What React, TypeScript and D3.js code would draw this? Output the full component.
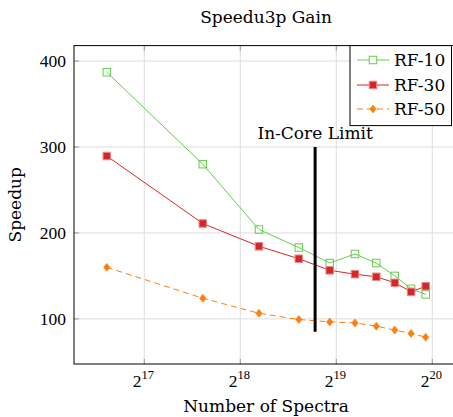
import React from "react";
import * as d3 from "d3";

const spectra = [100000, 200000, 300000, 400000, 500000, 600000, 700000, 800000, 900000, 1000000];
const rf10 = [387, 280, 204, 183, 165, 175.5, 165, 150, 135, 128.5];
const rf30 = [289.5, 211, 184.5, 170, 156.5, 152, 149, 142, 131.5, 138];
const rf50 = [160, 124, 106.5, 99.3, 96.5, 95.3, 91.5, 87, 83, 78.7];
const xTickExps = [17, 18, 19, 20];
const yTicks = [100, 200, 300, 400];
const inCoreX = 450000;
const inCoreY = [85, 300];

const W = 453, H = 417;
const L = 74, R = 458, T = 45.6, B = 364;
const FONT = "'DejaVu Serif', serif";
const NUMFONT = "'Liberation Serif', 'DejaVu Serif', serif";

const GREEN = "#66cc4e";
const RED = "#d62728";
const ORANGE = "#ff7f0e";

export default function App() {
  const x = d3.scaleLog().base(2).domain([Math.pow(2, 16.268), Math.pow(2, 20.268)]).range([L, R]);
  const y = d3.scaleLinear().domain([47.5, 418]).range([B, T]);
  const line = d3.line<[number, number]>().x(d => x(d[0])).y(d => y(d[1]));
  const pts = (vals: number[]) => spectra.map((s, i) => [s, vals[i]] as [number, number]);

  const square = (cx: number, cy: number, s: number, fill: string, stroke: string, key: string) => (
    <rect key={key} x={cx - s / 2} y={cy - s / 2} width={s} height={s} fill={fill} stroke={stroke} strokeWidth={1} />
  );
  const diamond = (cx: number, cy: number, r: number, key: string) => (
    <path key={key} d={`M${cx},${cy - r}L${cx + r * 0.8},${cy}L${cx},${cy + r}L${cx - r * 0.8},${cy}Z`} fill={ORANGE} stroke={ORANGE} strokeWidth={0.6} />
  );

  const legendRows = [
    { label: "RF-10", y: 60 },
    { label: "RF-30", y: 85 },
    { label: "RF-50", y: 109 },
  ];

  return (
    <svg width={W} height={H} style={{ position: "absolute", left: 0, top: 0, background: "#fff" }} fontFamily={FONT}>
      <defs>
        <clipPath id="plotclip"><rect x={L} y={T} width={R - L} height={B - T} /></clipPath>
      </defs>
      {/* title */}
      <text x={266} y={23} textAnchor="middle" fontSize={17} fill="#000">Speedu3p Gain</text>

      {/* grid */}
      {xTickExps.map(e => (
        <line key={"gx" + e} x1={x(Math.pow(2, e))} x2={x(Math.pow(2, e))} y1={T} y2={B} stroke="#dcdcdc" strokeWidth={1} />
      ))}
      {yTicks.map(v => (
        <line key={"gy" + v} x1={L} x2={R} y1={y(v)} y2={y(v)} stroke="#dcdcdc" strokeWidth={1} />
      ))}
      {/* ticks inside */}
      {xTickExps.map(e => (
        <g key={"tx" + e}>
          <line x1={x(Math.pow(2, e))} x2={x(Math.pow(2, e))} y1={B} y2={B - 5} stroke="#999" strokeWidth={1} />
          <line x1={x(Math.pow(2, e))} x2={x(Math.pow(2, e))} y1={T} y2={T + 5} stroke="#999" strokeWidth={1} />
        </g>
      ))}
      {yTicks.map(v => (
        <g key={"ty" + v}>
          <line x1={L} x2={L + 5} y1={y(v)} y2={y(v)} stroke="#999" strokeWidth={1} />
          <line x1={R} x2={R - 5} y1={y(v)} y2={y(v)} stroke="#999" strokeWidth={1} />
        </g>
      ))}

      <g clipPath="url(#plotclip)">
        <path d={line(pts(rf10)) || ""} fill="none" stroke={GREEN} strokeWidth={1} />
        <path d={line(pts(rf30)) || ""} fill="none" stroke={RED} strokeWidth={1} />
        <path d={line(pts(rf50)) || ""} fill="none" stroke={ORANGE} strokeWidth={1} strokeDasharray="6 4" />
        <line x1={x(inCoreX)} x2={x(inCoreX)} y1={y(inCoreY[0])} y2={y(inCoreY[1])} stroke="#000" strokeWidth={3} />
        {pts(rf10).map((p, i) => square(x(p[0]), y(p[1]), 7.5, "none", GREEN, "m10" + i))}
        {pts(rf30).map((p, i) => square(x(p[0]), y(p[1]), 7.5, RED, "#e8898a", "m30" + i))}
        {pts(rf50).map((p, i) => diamond(x(p[0]), y(p[1]), 4, "m50" + i))}
      </g>

      <text x={x(inCoreX)} y={139} textAnchor="middle" fontSize={17} fill="#000">In-Core Limit</text>

      {/* frame */}
      <rect x={L} y={T} width={R - L} height={B - T} fill="none" stroke="#000" strokeWidth={1} />

      {/* y tick labels */}
      {yTicks.map(v => (
        <text key={"yl" + v} x={66} y={y(v) + 6} textAnchor="end" fontSize={17.5} fontFamily={NUMFONT} fill="#000">{v}</text>
      ))}
      {/* x tick labels */}
      {xTickExps.map(e => (
        <text key={"xl" + e} x={x(Math.pow(2, e)) - 1} y={387} textAnchor="middle" fontSize={17.5} fontFamily={NUMFONT} fill="#000">
          2<tspan dy={-8} fontSize={12.5}>{e}</tspan>
        </text>
      ))}

      {/* axis labels */}
      <text x={266} y={412} textAnchor="middle" fontSize={17} fill="#000">Number of Spectra</text>
      <text transform={`translate(21,${(T + B) / 2}) rotate(-90)`} textAnchor="middle" fontSize={17} fill="#000">Speedup</text>

      {/* legend */}
      <rect x={350} y={45.6} width={101.5} height={80} fill="#fff" stroke="#000" strokeWidth={1} />
      {legendRows.map((r, i) => (
        <g key={"lg" + i}>
          {i === 0 && <line x1={357} x2={389} y1={r.y} y2={r.y} stroke={GREEN} strokeWidth={1} />}
          {i === 0 && square(373, r.y, 7.5, "#fff", GREEN, "lm0")}
          {i === 1 && <line x1={357} x2={389} y1={r.y} y2={r.y} stroke={RED} strokeWidth={1} />}
          {i === 1 && square(373, r.y, 7.5, RED, "#e8898a", "lm1")}
          {i === 2 && <line x1={357} x2={389} y1={r.y} y2={r.y} stroke={ORANGE} strokeWidth={1} strokeDasharray="6 4" />}
          {i === 2 && diamond(373, r.y, 4, "lm2")}
          <text x={394} y={r.y + 6} fontSize={17} fill="#000">{r.label}</text>
        </g>
      ))}
    </svg>
  );
}
